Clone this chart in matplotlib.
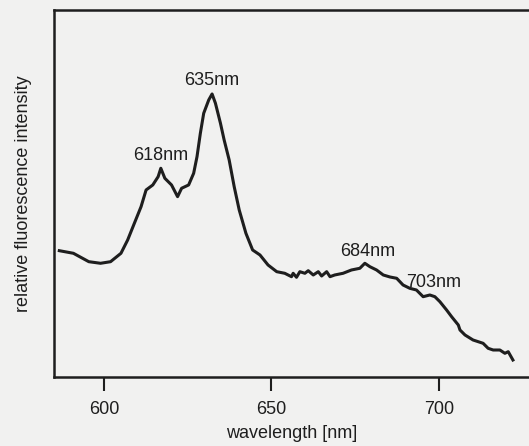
import matplotlib.pyplot as plt

# spectrum (intensity in arbitrary units)
wavelength = [586.7, 590.9, 595.5, 599.0, 602.0, 605.1, 607.1, 609.1, 611.1, 612.6,
              614.6, 616.2, 617.0, 618.2, 620.2, 622.0, 623.2, 625.3, 626.8, 627.8,
              628.8, 629.8, 631.3, 632.3, 633.3, 634.8, 635.9, 637.4, 638.9, 640.4,
              642.4, 644.4, 646.6, 649.0, 651.6, 654.0, 656.0, 656.5, 657.5, 658.5,
              660.0, 661.0, 662.5, 664.0, 665.0, 666.5, 667.5, 668.9, 671.4, 673.9,
              676.4, 677.9, 679.4, 681.4, 683.4, 685.4, 687.4, 689.3, 691.3, 693.3,
              695.3, 697.3, 698.8, 700.3, 702.3, 703.8, 705.8, 706.3, 707.8, 710.2,
              713.2, 714.7, 716.2, 718.2, 719.7, 720.7, 722.1]
intensity = [126.3, 123.7, 115.3, 113.7, 115.3, 123.7, 137.0, 153.7, 170.3, 187.0,
             192.0, 200.3, 208.7, 198.7, 192.0, 180.3, 188.7, 192.0, 203.7, 220.3,
             243.7, 263.7, 277.0, 283.0, 273.7, 253.7, 237.0, 217.0, 190.3, 167.0,
             143.7, 127.0, 122.0, 112.0, 105.3, 103.7, 100.3, 103.7, 99.7, 105.3,
             103.7, 106.3, 102.0, 105.3, 101.0, 105.3, 100.3, 102.0, 103.7, 107.0,
             108.7, 113.7, 110.3, 107.0, 102.0, 100.0, 98.7, 92.0, 88.7, 87.0,
             80.3, 82.0, 80.3, 75.3, 67.0, 60.3, 52.0, 47.0, 42.0, 37.0,
             33.7, 28.7, 27.0, 27.0, 23.7, 25.3, 17.0]

peak_labels = ["618nm", "635nm", "684nm", "703nm"]
label_x = [617.0, 632.3, 678.8, 698.3]
label_y = [221, 296, 125, 94]

fonts = ['Liberation Sans', 'DejaVu Sans']
plt.rcParams['font.family'] = fonts
ink = '#1e1e1e'
bg = '#f1f1f0'

fig = plt.figure(figsize=(5.29, 4.46), dpi=100, facecolor=bg)
ax = fig.add_axes([0.102, 0.1547, 0.898, 0.823], facecolor=bg)

ax.plot(wavelength, intensity, color=ink, lw=2.2)

for t, x, y in zip(peak_labels, label_x, label_y):
    ax.text(x, y, t, ha='center', va='center', fontsize=13, family=fonts, color=ink)

ax.set_xlim(585.1, 726.9)
ax.set_ylim(0, 367)
ax.set_xticks([600, 650, 700])
ax.set_yticks([])
ax.tick_params(axis='x', direction='out', length=10, width=1.5, pad=7,
               labelsize=13, colors=ink)

for s in ['left', 'top', 'bottom']:
    ax.spines[s].set_linewidth(1.8)
    ax.spines[s].set_color(ink)
ax.spines['right'].set_visible(False)

ax.set_xlabel("wavelength [nm]", fontsize=13, color=ink, labelpad=5)
ax.set_ylabel("relative fluorescence intensity", fontsize=13, color=ink, labelpad=16)

fig.savefig("out.png", dpi=100, facecolor=bg)
